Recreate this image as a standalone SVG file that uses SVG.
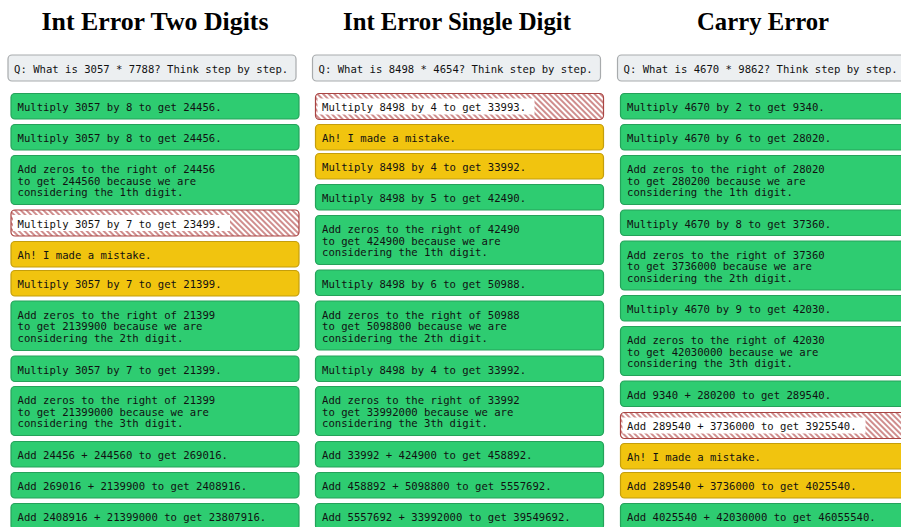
<svg xmlns="http://www.w3.org/2000/svg" width="901" height="527" viewBox="0 0 901 527">
  <defs>
    <pattern id="hatch" patternUnits="userSpaceOnUse" width="4" height="4" patternTransform="rotate(-45)">
      <line x1="2" y1="-1" x2="2" y2="5" stroke="#a82f2f" stroke-width="1.1"/>
    </pattern>
  </defs>
  <style>
    .title { font-family: "Liberation Serif", "Times New Roman", serif; font-weight: bold; font-size: 26px; fill: #000; text-anchor: middle; }
    .t { font-family: "DejaVu Sans Mono", "Liberation Mono", monospace; font-size: 10.6px; fill: #111; }
    .q { fill: #eceff1; stroke: #a8abad; stroke-width: 1.2; }
    .ok { fill: #2ecc71; stroke: #25a25a; stroke-width: 1.2; }
    .fix { fill: #f1c40f; stroke: #c49e0c; stroke-width: 1.2; }
    .bad-bg { fill: #ffffff; }
    .bad { fill: url(#hatch); stroke: #a94442; stroke-width: 1.2; }
    .lbl { fill: #ffffff; }
  </style>
  <rect width="901" height="527" fill="#ffffff"/>

  <!-- column titles -->
  <g id="titles">
    <text class="title" x="155" y="29.5" textLength="227" lengthAdjust="spacingAndGlyphs">Int Error Two Digits</text>
    <text class="title" x="457" y="29.5" textLength="228" lengthAdjust="spacingAndGlyphs">Int Error Single Digit</text>
    <text class="title" x="763" y="29.5" textLength="132" lengthAdjust="spacingAndGlyphs">Carry Error</text>
  </g>

  <!-- column 1: Int Error Two Digits -->
  <g id="c1-q"><rect class="q" x="8" y="55" width="288" height="26" rx="4"/><text class="t" x="14" y="72.5">Q: What is 3057 * 7788? Think step by step.</text></g>
  <g id="c1-s1"><rect class="ok" x="11" y="93.5" width="288" height="25.5" rx="4"/><text class="t" x="17.5" y="111">Multiply 3057 by 8 to get 24456.</text></g>
  <g id="c1-s2"><rect class="ok" x="11" y="124.5" width="288" height="25.5" rx="4"/><text class="t" x="17.5" y="142">Multiply 3057 by 8 to get 24456.</text></g>
  <g id="c1-s3"><rect class="ok" x="11" y="155.5" width="288" height="49" rx="4"/><text class="t" x="17.5" y="173"><tspan x="17.5">Add zeros to the right of 24456</tspan><tspan x="17.5" dy="11.5">to get 244560 because we are</tspan><tspan x="17.5" dy="11.5">considering the 1th digit.</tspan></text></g>
  <g id="c1-s4"><rect class="bad-bg" x="11" y="210" width="288" height="26" rx="4"/><rect class="bad" x="11" y="210" width="288" height="26" rx="4"/><rect class="lbl" x="13" y="215" width="217" height="16"/><text class="t" x="17.5" y="227.5">Multiply 3057 by 7 to get 23499.</text></g>
  <g id="c1-s5"><rect class="fix" x="11" y="241.5" width="288" height="25.5" rx="4"/><text class="t" x="17.5" y="259">Ah! I made a mistake.</text></g>
  <g id="c1-s6"><rect class="fix" x="11" y="270.5" width="288" height="25.5" rx="4"/><text class="t" x="17.5" y="288">Multiply 3057 by 7 to get 21399.</text></g>
  <g id="c1-s7"><rect class="ok" x="11" y="301" width="288" height="49.5" rx="4"/><text class="t" x="17.5" y="318.5"><tspan x="17.5">Add zeros to the right of 21399</tspan><tspan x="17.5" dy="11.5">to get 2139900 because we are</tspan><tspan x="17.5" dy="11.5">considering the 2th digit.</tspan></text></g>
  <g id="c1-s8"><rect class="ok" x="11" y="356" width="288" height="25.5" rx="4"/><text class="t" x="17.5" y="373.5">Multiply 3057 by 7 to get 21399.</text></g>
  <g id="c1-s9"><rect class="ok" x="11" y="386.5" width="288" height="49" rx="4"/><text class="t" x="17.5" y="404"><tspan x="17.5">Add zeros to the right of 21399</tspan><tspan x="17.5" dy="11.5">to get 21399000 because we are</tspan><tspan x="17.5" dy="11.5">considering the 3th digit.</tspan></text></g>
  <g id="c1-s10"><rect class="ok" x="11" y="441.5" width="288" height="25.5" rx="4"/><text class="t" x="17.5" y="459">Add 24456 + 244560 to get 269016.</text></g>
  <g id="c1-s11"><rect class="ok" x="11" y="472.5" width="288" height="25.5" rx="4"/><text class="t" x="17.5" y="490">Add 269016 + 2139900 to get 2408916.</text></g>
  <g id="c1-s12"><rect class="ok" x="11" y="503.5" width="288" height="26" rx="4"/><text class="t" x="17.5" y="521">Add 2408916 + 21399000 to get 23807916.</text></g>

  <!-- column 2: Int Error Single Digit -->
  <g id="c2-q"><rect class="q" x="312.5" y="55" width="288" height="26" rx="4"/><text class="t" x="318.5" y="72.5">Q: What is 8498 * 4654? Think step by step.</text></g>
  <g id="c2-s1"><rect class="bad-bg" x="315.5" y="93.5" width="288" height="26" rx="4"/><rect class="bad" x="315.5" y="93.5" width="288" height="26" rx="4"/><rect class="lbl" x="317.5" y="98.5" width="217" height="16"/><text class="t" x="322" y="111">Multiply 8498 by 4 to get 33993.</text></g>
  <g id="c2-s2"><rect class="fix" x="315.5" y="124.5" width="288" height="25.5" rx="4"/><text class="t" x="322" y="142">Ah! I made a mistake.</text></g>
  <g id="c2-s3"><rect class="fix" x="315.5" y="153.5" width="288" height="25.5" rx="4"/><text class="t" x="322" y="171">Multiply 8498 by 4 to get 33992.</text></g>
  <g id="c2-s4"><rect class="ok" x="315.5" y="184.5" width="288" height="25.5" rx="4"/><text class="t" x="322" y="202">Multiply 8498 by 5 to get 42490.</text></g>
  <g id="c2-s5"><rect class="ok" x="315.5" y="215.5" width="288" height="49" rx="4"/><text class="t" x="322" y="233"><tspan x="322">Add zeros to the right of 42490</tspan><tspan x="322" dy="11.5">to get 424900 because we are</tspan><tspan x="322" dy="11.5">considering the 1th digit.</tspan></text></g>
  <g id="c2-s6"><rect class="ok" x="315.5" y="270" width="288" height="25.5" rx="4"/><text class="t" x="322" y="287.5">Multiply 8498 by 6 to get 50988.</text></g>
  <g id="c2-s7"><rect class="ok" x="315.5" y="301" width="288" height="49" rx="4"/><text class="t" x="322" y="318.5"><tspan x="322">Add zeros to the right of 50988</tspan><tspan x="322" dy="11.5">to get 5098800 because we are</tspan><tspan x="322" dy="11.5">considering the 2th digit.</tspan></text></g>
  <g id="c2-s8"><rect class="ok" x="315.5" y="356" width="288" height="25.5" rx="4"/><text class="t" x="322" y="373.5">Multiply 8498 by 4 to get 33992.</text></g>
  <g id="c2-s9"><rect class="ok" x="315.5" y="386.5" width="288" height="49" rx="4"/><text class="t" x="322" y="404"><tspan x="322">Add zeros to the right of 33992</tspan><tspan x="322" dy="11.5">to get 33992000 because we are</tspan><tspan x="322" dy="11.5">considering the 3th digit.</tspan></text></g>
  <g id="c2-s10"><rect class="ok" x="315.5" y="441.5" width="288" height="25.5" rx="4"/><text class="t" x="322" y="459">Add 33992 + 424900 to get 458892.</text></g>
  <g id="c2-s11"><rect class="ok" x="315.5" y="472.5" width="288" height="25.5" rx="4"/><text class="t" x="322" y="490">Add 458892 + 5098800 to get 5557692.</text></g>
  <g id="c2-s12"><rect class="ok" x="315.5" y="503.5" width="288" height="26" rx="4"/><text class="t" x="322" y="521">Add 5557692 + 33992000 to get 39549692.</text></g>

  <!-- column 3: Carry Error -->
  <g id="c3-q"><rect class="q" x="617.5" y="55" width="288" height="26" rx="4"/><text class="t" x="623.5" y="72.5">Q: What is 4670 * 9862? Think step by step.</text></g>
  <g id="c3-s1"><rect class="ok" x="620.5" y="93.5" width="288" height="25.5" rx="4"/><text class="t" x="627" y="111">Multiply 4670 by 2 to get 9340.</text></g>
  <g id="c3-s2"><rect class="ok" x="620.5" y="124.5" width="288" height="25.5" rx="4"/><text class="t" x="627" y="142">Multiply 4670 by 6 to get 28020.</text></g>
  <g id="c3-s3"><rect class="ok" x="620.5" y="155.5" width="288" height="49" rx="4"/><text class="t" x="627" y="173"><tspan x="627">Add zeros to the right of 28020</tspan><tspan x="627" dy="11.5">to get 280200 because we are</tspan><tspan x="627" dy="11.5">considering the 1th digit.</tspan></text></g>
  <g id="c3-s4"><rect class="ok" x="620.5" y="210" width="288" height="25.5" rx="4"/><text class="t" x="627" y="227.5">Multiply 4670 by 8 to get 37360.</text></g>
  <g id="c3-s5"><rect class="ok" x="620.5" y="241" width="288" height="49" rx="4"/><text class="t" x="627" y="258.5"><tspan x="627">Add zeros to the right of 37360</tspan><tspan x="627" dy="11.5">to get 3736000 because we are</tspan><tspan x="627" dy="11.5">considering the 2th digit.</tspan></text></g>
  <g id="c3-s6"><rect class="ok" x="620.5" y="295.5" width="288" height="25.5" rx="4"/><text class="t" x="627" y="313">Multiply 4670 by 9 to get 42030.</text></g>
  <g id="c3-s7"><rect class="ok" x="620.5" y="326.5" width="288" height="49" rx="4"/><text class="t" x="627" y="344"><tspan x="627">Add zeros to the right of 42030</tspan><tspan x="627" dy="11.5">to get 42030000 because we are</tspan><tspan x="627" dy="11.5">considering the 3th digit.</tspan></text></g>
  <g id="c3-s8"><rect class="ok" x="620.5" y="381" width="288" height="25.5" rx="4"/><text class="t" x="627" y="398.5">Add 9340 + 280200 to get 289540.</text></g>
  <g id="c3-s9"><rect class="bad-bg" x="620.5" y="412.5" width="288" height="26" rx="4"/><rect class="bad" x="620.5" y="412.5" width="288" height="26" rx="4"/><rect class="lbl" x="622.5" y="417.5" width="243" height="16"/><text class="t" x="627" y="430">Add 289540 + 3736000 to get 3925540.</text></g>
  <g id="c3-s10"><rect class="fix" x="620.5" y="443.5" width="288" height="25.5" rx="4"/><text class="t" x="627" y="461">Ah! I made a mistake.</text></g>
  <g id="c3-s11"><rect class="fix" x="620.5" y="472.5" width="288" height="25.5" rx="4"/><text class="t" x="627" y="490">Add 289540 + 3736000 to get 4025540.</text></g>
  <g id="c3-s12"><rect class="ok" x="620.5" y="503.5" width="288" height="26" rx="4"/><text class="t" x="627" y="521">Add 4025540 + 42030000 to get 46055540.</text></g>
</svg>
